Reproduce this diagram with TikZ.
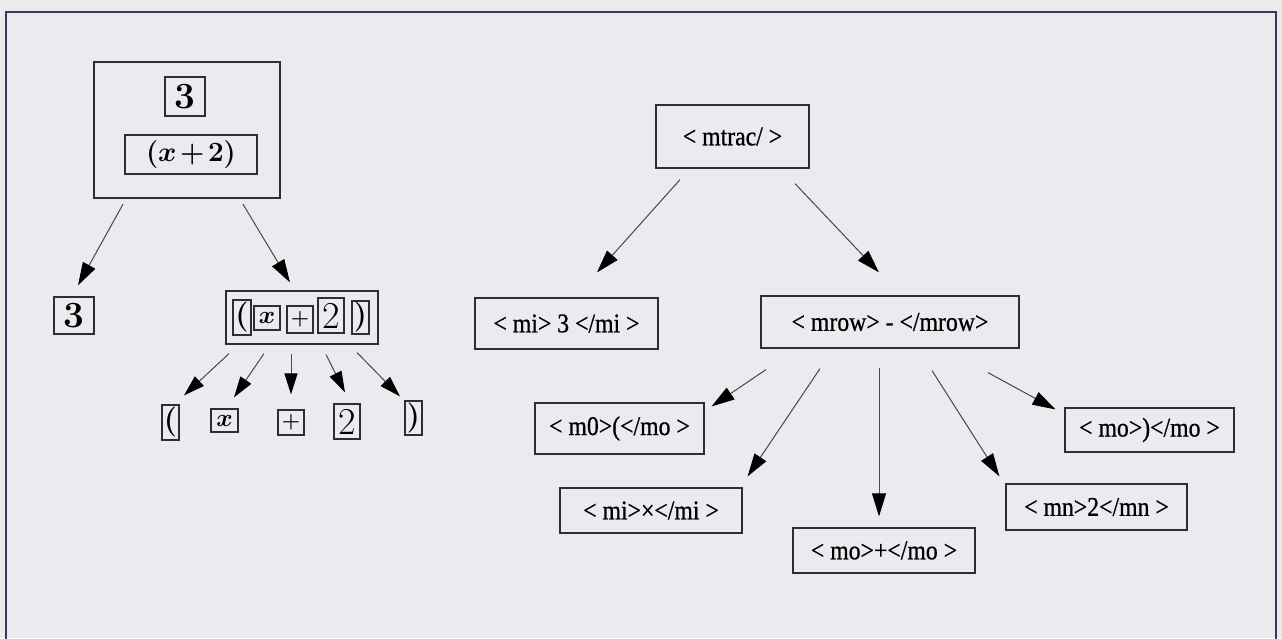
\documentclass[tikz,border=0pt]{standalone}
\usepackage{fontspec}
\usepackage{graphicx}
\newfontfamily\tagfont[FakeStretch=0.88,FakeBold=0.7]{Liberation Serif}
\usetikzlibrary{arrows.meta}
\definecolor{paper}{RGB}{234,235,239}
\definecolor{framecol}{RGB}{58,58,88}
\definecolor{ink}{RGB}{45,45,50}
\definecolor{wire}{RGB}{70,70,75}

\tikzset{
  sz/.style n args={2}{minimum width=#1pt, minimum height=#2pt},
  box/.style={draw=ink, line width=1.2pt, inner sep=0pt, text=black},
  tag/.style={box, font=\tagfont\fontsize{27}{30}\selectfont},
  mathbox/.style={box, font=\fontsize{25}{30}\selectfont\boldmath},
  glyph/.style={box, line width=1.2pt, font=\fontsize{30}{34}\selectfont\bfseries\boldmath},
  plusglyph/.style={glyph, font=\fontsize{21}{24}\selectfont\bfseries},
  arr/.style={draw=wire, line width=1pt, -{Triangle[length=23pt,width=14pt,color=black]}},
  smallarr/.style={draw=wire, line width=1pt, -{Triangle[length=21pt,width=13pt,color=black]}}
}

\begin{document}
\begin{tikzpicture}[x=1pt,y=-1pt]
\path[use as bounding box] (0,0) rectangle (1282,638);
\fill[paper] (0,0) rectangle (1282,638);
\draw[framecol, line width=2.5pt] (6,640) -- (6,12) -- (1276,12) -- (1276,640);

% ---- left: nested boxes of 3 / (x+2) ----
\node[box, line width=2.4pt, sz={186}{136}] (frac) at (187,130) {};
\node[box, sz={40}{39}, font=\fontsize{37}{40}\selectfont\bfseries] (num) at (185,96.5) {3};
\node[mathbox, sz={132}{39}] (den) at (191,154.5) {\scalebox{1.12}{$(x\mkern-2mu+\mkern-2mu2)$}};

\node[box, sz={40}{37}, font=\fontsize{37}{40}\selectfont\bfseries] (three) at (74,315.5) {3};
\node[box, sz={152}{53}] (grp) at (302,317.5) {};
\node[glyph, sz={18}{35}] (glp) at (242,317.5) {(};
\node[glyph, sz={26}{24}, font=\fontsize{25}{30}\selectfont\boldmath] (gx) at (267,318) {$x$};
\node[plusglyph, sz={26}{27}] (gplus) at (300,319.5) {+};
\node[glyph, sz={26}{35}, font=\fontsize{38}{40}\selectfont] (gtwo) at (331,315.5) {2};
\node[glyph, sz={17}{33}] (grp2) at (360.5,317.5) {)};

\node[glyph, sz={17}{35}] (blp) at (170.5,422.5) {(};
\node[glyph, sz={27}{23}, font=\fontsize{25}{30}\selectfont\boldmath] (bx) at (224.5,420.5) {$x$};
\node[plusglyph, sz={26}{25}] (bplus) at (291,422.5) {+};
\node[glyph, sz={26}{35}, font=\fontsize{38}{40}\selectfont] (btwo) at (347,421.5) {2};
\node[glyph, sz={17}{34}] (brp) at (413.5,418) {)};

\draw[arr] ([xshift=-64pt,yshift=-5pt]frac.south) -- ([xshift=4pt,yshift=11pt]three.north);
\draw[arr] ([xshift=56pt,yshift=-5pt]frac.south) -- ([xshift=-12pt,yshift=8pt]grp.north);

\draw[smallarr] ([xshift=-73pt,yshift=-9pt]grp.south) -- ([xshift=13.5pt,yshift=9pt]blp.north);
\draw[smallarr] ([xshift=-38pt,yshift=-9pt]grp.south) -- ([xshift=9.5pt,yshift=11pt]bx.north);
\draw[smallarr] ([xshift=-11pt,yshift=-9pt]grp.south) -- ([yshift=15pt]bplus.north);
\draw[smallarr] ([xshift=24pt,yshift=-10pt]grp.south) -- ([xshift=-2pt,yshift=11pt]btwo.north);
\draw[smallarr] ([xshift=55pt,yshift=-8pt]grp.south) -- ([xshift=-13.5pt,yshift=4pt]brp.north);

% ---- right: MathML element tree ----
\node[tag, sz={153}{63}] (mfrac) at (732.5,136.5) {< mtrac/ >};
\node[tag, sz={183}{51}] (mi3) at (566.5,323.5) {< mi> 3 </mi >};
\node[tag, sz={258}{52}] (mrow) at (890,322) {< mrow> - </mrow>};
\node[tag, sz={169}{51}] (mlp) at (619.5,428.5) {< m0>(</mo >};
\node[tag, sz={182}{45}] (mix) at (651,510.5) {< mi>×</mi >};
\node[tag, sz={182}{45}] (mplus) at (884,550.5) {< mo>+</mo >};
\node[tag, sz={181}{46}] (mtwo) at (1096.5,507) {< mn>2</mn >};
\node[tag, sz={169}{44}] (mrp) at (1149.5,430) {< mo>)</mo >};

\draw[arr] ([xshift=-52.5pt,yshift=-11pt]mfrac.south) -- ([xshift=30.5pt,yshift=25pt]mi3.north);
\draw[arr] ([xshift=62.5pt,yshift=-15pt]mfrac.south) -- ([xshift=-11pt,yshift=23pt]mrow.north);

\draw[arr] ([xshift=-124pt,yshift=-21pt]mrow.south) -- ([xshift=7pt,yshift=-4pt]mlp.north east);
\draw[arr] ([xshift=-70pt,yshift=-20pt]mrow.south) -- ([xshift=5pt,yshift=11pt]mix.north east);
\draw[arr] ([xshift=-11pt,yshift=-19pt]mrow.south) -- ([xshift=-5pt,yshift=11pt]mplus.north);
\draw[arr] ([xshift=42pt,yshift=-22pt]mrow.south) -- ([xshift=-6pt,yshift=7pt]mtwo.north west);
\draw[arr] ([xshift=98pt,yshift=-24pt]mrow.south) -- ([xshift=-9pt,yshift=-2pt]mrp.north west);
\end{tikzpicture}
\end{document}
